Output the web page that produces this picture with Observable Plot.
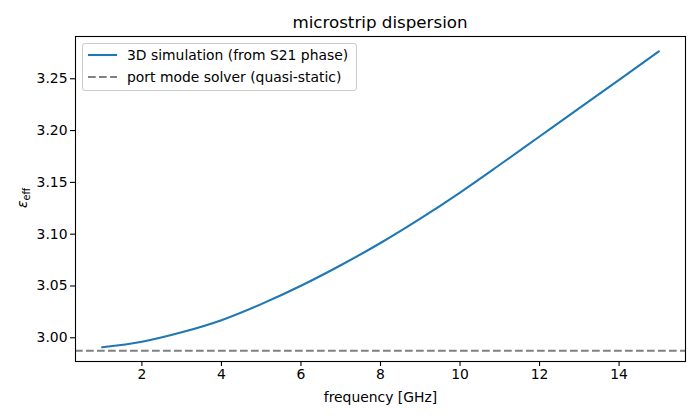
<!DOCTYPE html>
<html>
<head>
<meta charset="utf-8">
<script src="https://cdn.jsdelivr.net/npm/d3@7"></script>
<script src="https://cdn.jsdelivr.net/npm/@observablehq/plot@0.6"></script>
<style>
  html, body { margin: 0; padding: 0; background: #fff; }
  #wrap { position: relative; width: 700px; height: 420px; font-family: "DejaVu Sans", sans-serif; color: #000; }
  #title { position: absolute; left: 75px; width: 610px; top: 12px; text-align: center; font-size: 16.7px; line-height: 20px; }
  #chart { position: absolute; left: 0; top: 30px; }
  #ylab { position: absolute; left: 23px; top: 198px; transform: translate(-50%, -50%) rotate(-90deg); font-size: 13.9px; white-space: nowrap; }
  #ylab sub { font-size: 9.7px; vertical-align: -3px; }
  #legend { position: absolute; left: 82px; top: 43px; width: 273px; height: 46px; border: 1px solid #cccccc; border-radius: 3px; background: rgba(255,255,255,0.8); font-size: 13.9px; }
  .row { position: absolute; left: 0; height: 20px; width: 100%; }
  .row svg { position: absolute; left: 4px; top: 0; }
  .row span { position: absolute; left: 44px; top: 0; line-height: 20px; white-space: nowrap; }
</style>
</head>
<body>
<div id="wrap">
  <div id="title">microstrip dispersion</div>
  <div id="chart"></div>
  <div id="ylab"><i>ε</i><sub>eff</sub></div>
  <div id="legend"></div>
</div>
<script>
// ---- data ----
const freq = [1, 2, 3, 4, 5, 6, 7, 8, 9, 10, 11, 12, 13, 14, 15];
const epsSim = [2.9908, 2.9962, 3.0053, 3.0170, 3.0325, 3.0502, 3.0700, 3.0915, 3.1150, 3.1402, 3.1670, 3.1943, 3.2216, 3.2490, 3.2765];
const epsPort = 2.9875;
const xTicks = [2, 4, 6, 8, 10, 12, 14];
const yTicks = [3.00, 3.05, 3.10, 3.15, 3.20, 3.25];
const seriesNames = ["3D simulation (from S21 phase)", "port mode solver (quasi-static)"];
const seriesColors = ["#1f77b4", "#808080"];

const simData = freq.map((f, i) => ({f, eps: epsSim[i]}));

const chart = Plot.plot({
  width: 700,
  height: 390,
  marginLeft: 75,
  marginRight: 15,
  marginTop: 6,
  marginBottom: 59,
  style: {fontFamily: "DejaVu Sans, sans-serif", fontSize: "13.9px", color: "#000", background: "transparent"},
  x: {domain: [0.33, 15.67]},
  y: {domain: [2.9771, 3.2908]},
  marks: [
    Plot.ruleY([epsPort], {stroke: seriesColors[1], strokeWidth: 2.08, strokeDasharray: "7.7,3.3"}),
    Plot.line(simData, {x: "f", y: "eps", stroke: seriesColors[0], strokeWidth: 2.08, curve: "monotone-x"}),
    Plot.frame({stroke: "#000", strokeWidth: 1.1}),
    Plot.axisX({ticks: xTicks, tickSize: 5, tickPadding: 3, stroke: "#000", strokeWidth: 1.1, fontSize: 13.9,
      label: "frequency [GHz]", labelAnchor: "center", labelArrow: "none", labelOffset: 40}),
    Plot.axisY({ticks: yTicks, tickSize: 5, tickPadding: 3, stroke: "#000", strokeWidth: 1.1, fontSize: 13.9,
      tickFormat: d3.format(".2f"), label: null})
  ]
});
document.getElementById("chart").appendChild(chart);

// legend
const legend = document.getElementById("legend");
const rowTops = [1, 23];
seriesNames.forEach((name, i) => {
  const row = document.createElement("div");
  row.className = "row";
  row.style.top = rowTops[i] + "px";
  const dash = i === 1 ? 'stroke-dasharray="7.7,3.3"' : '';
  row.innerHTML = `<svg width="32" height="20"><line x1="1" x2="30" y1="10" y2="10" stroke="${seriesColors[i]}" stroke-width="2.08" ${dash}/></svg><span>${name}</span>`;
  legend.appendChild(row);
});
</script>
</body>
</html>
